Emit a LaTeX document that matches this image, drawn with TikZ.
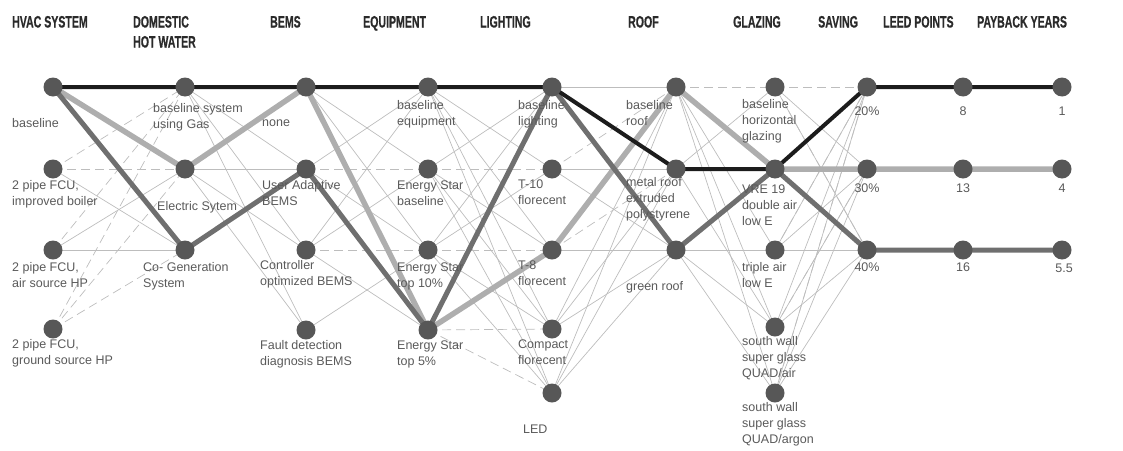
\documentclass[tikz,border=0pt]{standalone}
\usepackage{fontspec}
\setmainfont{Liberation Sans}
\newfontfamily\headfont[FakeStretch=0.64,FakeBold=0.6,UprightFont={* Bold}]{Liberation Sans}
\definecolor{nodeg}{HTML}{575757}
\definecolor{thing}{HTML}{BDBDBD}
\definecolor{pathblack}{HTML}{1C1C1C}
\definecolor{pathlight}{HTML}{AEAEAE}
\definecolor{pathmid}{HTML}{6F6F6F}
\definecolor{labg}{HTML}{5A5A5A}
\definecolor{headg}{HTML}{2A2A2A}
\begin{document}
\begin{tikzpicture}[x=1pt,y=-1pt,
  dot/.style={circle,fill=nodeg,inner sep=0pt,minimum size=19pt},
  tline/.style={draw=thing,line width=0.7pt},
  tdash/.style={draw=thing,line width=0.7pt,dash pattern=on 9pt off 5pt},
  blackpath/.style={draw=pathblack,line width=4pt,line join=round},
  lightpath/.style={draw=pathlight,line width=5.5pt,line join=round},
  midpath/.style={draw=pathmid,line width=5pt,line join=round},
  lab/.style={anchor=north west,inner sep=0pt,align=left,text=labg,font=\fontsize{12.5}{16}\selectfont,execute at begin node=\strut},
  num/.style={anchor=north,inner sep=0pt,text=labg,font=\fontsize{12.5}{16}\selectfont,execute at begin node=\strut},
  head/.style={anchor=north west,inner sep=0pt,align=left,text=headg,font=\headfont\fontsize{16.5}{20}\selectfont}]
\useasboundingbox (0,0) rectangle (1123,450);

% headers
\node[head] (t1) at (12,15.8) {HVAC SYSTEM};
\node[head] (t2) at (133,15.8) {DOMESTIC\\HOT WATER};
\node[head] (t3) at (270,15.8) {BEMS};
\node[head] (t4) at (363,15.8) {EQUIPMENT};
\node[head] (t5) at (480,15.8) {LIGHTING};
\node[head] (t6) at (628,15.8) {ROOF};
\node[head] (t7) at (733,15.8) {GLAZING};
\node[head] (t8) at (818,15.8) {SAVING};
\node[head] (t9) at (883,15.8) {LEED POINTS};
\node[head] (t10) at (977,15.8) {PAYBACK YEARS};

% node coordinates
\foreach \n/\x/\y in {h1/53/87,h2/53/169,h3/53/250,h4/53/329,
  d1/185/87,d2/185/169,d3/185/250,
  b1/306/87,b2/306/169,b3/306/250,b4/306/330,
  e1/428/87,e2/428/169,e3/428/250,e4/428/330,
  l1/552/87,l2/552/169,l3/552/250,l4/552/329,l5/552/393,
  r1/676/87,r2/676/169,r3/676/250,
  g1/775/87,g2/775/169,g3/775/250,g4/775/327,g5/775/393,
  s1/867/87,s2/867/169,s3/867/250,
  p1/963/87,p2/963/169,p3/963/250,
  y1/1062/87,y2/1062/169,y3/1062/250}
  \coordinate (\n) at (\x,\y);

% thin solid connections
\foreach \a/\b in {h2/d3,h3/d2,h3/d3,
  d1/b2,d1/b3,d1/b4,d2/b2,d2/b3,d2/b4,
  b1/e2,b1/e3,b2/e1,b2/e3,b3/e1,b3/e2,b3/e4,b4/e3,
  e1/l2,e1/l3,e1/l4,e1/l5,e2/l1,e2/l3,e2/l4,e2/l5,e3/l1,e3/l2,e3/l4,e3/l5,
  l1/r1,l2/r2,l2/r3,l3/r3,l4/r1,l4/r2,l4/r3,l5/r1,l5/r2,l5/r3,
  r1/g3,r1/g4,r1/g5,r2/g1,r2/g4,r3/g3,r3/g4,r3/g5,
  g1/s2,g1/s3,g3/s1,g3/s2,g3/s3,g4/s1,g4/s2,g4/s3,g5/s1,g5/s2,g5/s3}
  \draw[tline] (\a) -- (\b);
% thin dashed connections
\foreach \a/\b in {h2/d1,h2/d2,h3/d1,h4/d1,h4/d2,h4/d3,
  b2/e2,b3/e3,e2/l2,e3/l3,e4/l4,e4/l5,l2/r1,l3/r2,r1/g1,g1/s1,
  g3/s1,g4/s2,g5/s1,g1/s3}
  \draw[tdash] (\a) -- (\b);

% highlighted paths
\draw[lightpath] (h1) -- (d2) -- (b1) -- (e4) -- (l3) -- (r1) -- (g2) -- (s2) -- (p2) -- (y2);
\draw[midpath] (h1) -- (d3) -- (b2) -- (e4) -- (l1) -- (r3) -- (g2) -- (s3) -- (p3) -- (y3);
\draw[blackpath] (h1) -- (d1) -- (b1) -- (e1) -- (l1) -- (r2) -- (g2) -- (s1) -- (p1) -- (y1);

% dots
\foreach \n in {h1,h2,h3,h4,d1,d2,d3,b1,b2,b3,b4,e1,e2,e3,e4,l1,l2,l3,l4,l5,
  r1,r2,r3,g1,g2,g3,g4,g5,s1,s2,s3,p1,p2,p3,y1,y2,y3}
  \node[dot] (n\n) at (\n) {};

% labels
\node[lab] (lh1) at (12,116.3) {baseline};
\node[lab] (lh2) at (12,180.3) {2 pipe FCU,\\improved boiler};
\node[lab] (lh3) at (12,262.3) {2 pipe FCU,\\air source HP};
\node[lab] (lh4) at (12,339.3) {2 pipe FCU,\\ground source HP};
\node[lab] (ld1) at (153,103.3) {baseline system\\using Gas};
\node[lab] (ld2) at (157,199.3) {Electric Sytem};
\node[lab] (ld3) at (143,262.3) {Co- Generation\\System};
\node[lab] (lb1) at (262,115.3) {none};
\node[lab] (lb2) at (262,180.3) {User Adaptive\\BEMS};
\node[lab] (lb3) at (260,260.3) {Controller\\optimized BEMS};
\node[lab] (lb4) at (260,340.3) {Fault detection\\diagnosis BEMS};
\node[lab] (le1) at (397,100.3) {baseline\\equipment};
\node[lab] (le2) at (397,180.3) {Energy Star\\baseline};
\node[lab] (le3) at (397,262.3) {Energy Star\\top 10\%};
\node[lab] (le4) at (397,340.3) {Energy Star\\top 5\%};
\node[lab] (ll1) at (518,100.3) {baseline\\lighting};
\node[lab] (ll2) at (518,179.3) {T-10\\florecent};
\node[lab] (ll3) at (518,260.3) {T-8\\florecent};
\node[lab] (ll4) at (518,339.3) {Compact\\florecent};
\node[lab] (ll5) at (523,422.3) {LED};
\node[lab] (lr1) at (626,100.3) {baseline\\roof};
\node[lab] (lr2) at (626,177.3) {metal roof\\extruded\\polystyrene};
\node[lab] (lr3) at (626,279.3) {green roof};
\node[lab] (lg1) at (742,99.3) {baseline\\horizontal\\glazing};
\node[lab] (lg2) at (742,184.3) {VRE 19\\double air\\low E};
\node[lab] (lg3) at (742,262.3) {triple air\\low E};
\node[lab] (lg4) at (742,336.3) {south wall\\super glass\\QUAD/air};
\node[lab] (lg5) at (742,402.3) {south wall\\super glass\\QUAD/argon};
\node[num] (ls1) at (867,104.3) {20\%};
\node[num] (ls2) at (867,181.3) {30\%};
\node[num] (ls3) at (867,260.3) {40\%};
\node[num] (lp1) at (963,104.3) {8};
\node[num] (lp2) at (963,181.3) {13};
\node[num] (lp3) at (963,260.3) {16};
\node[num] (ly1) at (1062,104.3) {1};
\node[num] (ly2) at (1062,181.3) {4};
\node[num] (ly3) at (1064,261.3) {5.5};
\end{tikzpicture}
\end{document}
